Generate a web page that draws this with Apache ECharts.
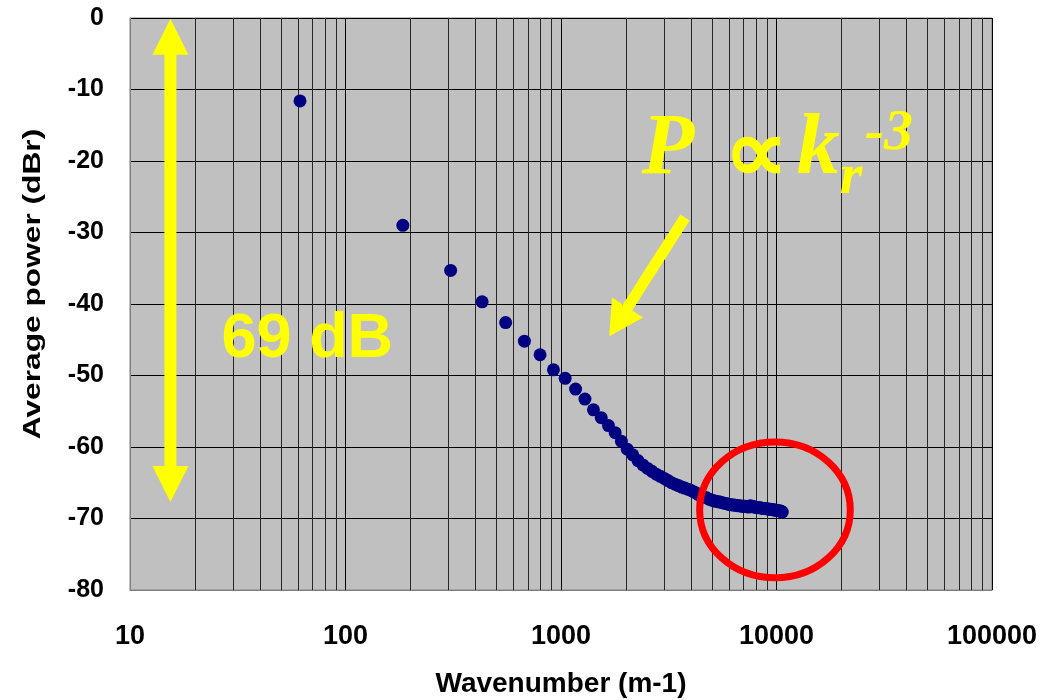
<!DOCTYPE html>
<html>
<head>
<meta charset="utf-8">
<script src="https://cdn.jsdelivr.net/npm/echarts@6/dist/echarts.min.js"></script>
<style>
  html, body { margin: 0; padding: 0; background: #ffffff; }
  #chart { width: 1053px; height: 700px; }
</style>
</head>
<body>
<div id="chart"></div>
<script>
// Radial wavenumber of each spectral bin (m-1)
const wavenumber = [
  61.5, 184.5, 307.5, 430.5, 553.5, 676.5, 799.5, 922.5, 1045.5,
  1168.5, 1291.5, 1414.5, 1537.5, 1660.5, 1783.5, 1906.5, 2029.5, 2152.5, 2275.5,
  2398.5, 2521.5, 2644.5, 2767.5, 2890.5, 3013.5, 3136.5, 3259.5, 3382.5, 3505.5,
  3628.5, 3751.5, 3874.5, 3997.5, 4120.5, 4243.5, 4366.5, 4489.5, 4612.5, 4735.5,
  4858.5, 4981.5, 5104.5, 5227.5, 5350.5, 5473.5, 5596.5, 5719.5, 5842.5, 5965.5,
  6088.5, 6211.5, 6334.5, 6457.5, 6580.5, 6703.5, 6826.5, 6949.5, 7072.5, 7195.5,
  7318.5, 7441.5, 7564.5, 7687.5, 7810.5, 7933.5, 8056.5, 8179.5, 8302.5, 8425.5,
  8548.5, 8671.5, 8794.5, 8917.5, 9040.5, 9163.5, 9286.5, 9409.5, 9532.5, 9655.5,
  9778.5, 9901.5, 10024.5, 10147.5, 10270.5, 10393.5, 10516.5, 10639.5
];

// Average power in each bin, relative to the reference level (dBr)
const averagePowerDb = [
  -11.6, -29.0, -35.3, -39.7, -42.6, -45.2, -47.1, -49.2, -50.4,
  -51.9, -53.3, -54.8, -55.9, -57.0, -58.0, -59.2, -60.3, -61.1, -61.9,
  -62.5, -63.0, -63.4, -63.8, -64.1, -64.4, -64.7, -65.0, -65.2, -65.4,
  -65.6, -65.75, -65.9, -66.05, -66.25, -66.45, -66.7, -66.85, -67.0, -67.1,
  -67.3, -67.4, -67.5, -67.6, -67.65, -67.7, -67.8, -67.85, -67.9, -68.0,
  -68.05, -68.1, -68.1, -68.15, -68.2, -68.2, -68.25, -68.3, -68.3, -68.3,
  -68.35, -68.4, -68.2, -68.3, -68.35, -68.4, -68.45, -68.5, -68.5, -68.5,
  -68.55, -68.6, -68.6, -68.6, -68.65, -68.7, -68.7, -68.7, -68.75, -68.8,
  -68.8, -68.8, -68.85, -68.9, -68.9, -68.95, -69.0, -69.1
];

const xTickValues = [10, 100, 1000, 10000, 100000];
const xTickLabels = ['10', '100', '1000', '10000', '100000'];
const yTickValues = [0, -10, -20, -30, -40, -50, -60, -70, -80];

const xAxisTitle = 'Wavenumber (m-1)';
const yAxisTitle = 'Average power (dBr)';
const spanLabel = '69 dB';

// Minor log gridlines at 2..9 times each decade
const minorGridValues = [];
for (let decade = 10; decade < 100000; decade *= 10) {
  for (let m = 2; m <= 9; m++) minorGridValues.push(m * decade);
}

const SANS = "'Liberation Sans', Arial, sans-serif";
const SERIF = "'Liberation Serif', 'Times New Roman', serif";
const YELLOW = '#ffff00';
const Y_MIN = yTickValues[yTickValues.length - 1];
const Y_MAX = yTickValues[0];

const chart = echarts.init(document.getElementById('chart'), null, { renderer: 'canvas' });

const option = {
  animation: false,
  backgroundColor: '#ffffff',
  grid: {
    left: 130, right: 61, top: 18, bottom: 110,
    outerBoundsMode: 'none', containLabel: false,
    show: true, backgroundColor: '#c0c0c0', borderColor: '#808080', borderWidth: 1
  },
  xAxis: {
    type: 'log', logBase: 10, min: xTickValues[0], max: xTickValues[xTickValues.length - 1],
    axisLine: { onZero: false, lineStyle: { color: '#808080', width: 1 } },
    axisTick: { show: false },
    axisLabel: {
      fontSize: 27, fontWeight: 'bold', fontFamily: SANS, color: '#000', margin: 33,
      formatter: v => {
        const i = xTickValues.findIndex(t => Math.abs(t - v) / t < 1e-6);
        return i >= 0 ? xTickLabels[i] : '';
      }
    },
    splitLine: { show: true, lineStyle: { color: '#000', width: 1 } },
    name: xAxisTitle, nameLocation: 'middle', nameGap: 80,
    nameTextStyle: { fontSize: 28, fontWeight: 'bold', fontFamily: SANS, color: '#000' }
  },
  yAxis: {
    type: 'value', min: Y_MIN, max: Y_MAX, interval: 10,
    axisLine: { show: true, onZero: false, lineStyle: { color: '#808080', width: 1 } },
    axisTick: { show: false },
    axisLabel: { fontSize: 25, fontWeight: 'bold', fontFamily: SANS, color: '#000', margin: 26 },
    splitLine: { show: true, lineStyle: { color: '#000', width: 1 } }
  },
  series: [
    {
      // minor vertical gridlines, snapped to whole pixels so they stay crisp
      type: 'custom', silent: true, z: 1,
      data: minorGridValues,
      renderItem: (params, api) => {
        const top = api.coord([api.value(0), Y_MAX]);
        const bottom = api.coord([api.value(0), Y_MIN]);
        const x = Math.round(top[0]) + 0.5;
        return {
          type: 'line',
          shape: { x1: x, y1: top[1], x2: x, y2: bottom[1] },
          style: { stroke: '#262626', lineWidth: 1 }
        };
      },
      encode: { x: 0 }
    },
    {
      name: 'Average power',
      type: 'scatter',
      z: 3,
      symbol: 'circle',
      symbolSize: 13,
      itemStyle: { color: '#000080', opacity: 1 },
      data: wavenumber.map((k, i) => [k, averagePowerDb[i]])
    }
  ]
};

chart.setOption(option);

// ---- annotations, anchored in data coordinates ----
const toPx = (x, y) => chart.convertToPixel({ gridIndex: 0 }, [x, y]);

function arrowPoints(a, b, shaft, headW, headL, doubleHead) {
  const dx = b[0] - a[0], dy = b[1] - a[1];
  const len = Math.hypot(dx, dy);
  const ux = dx / len, uy = dy / len, nx = -uy, ny = ux;
  const P = (t, s) => [a[0] + ux * t + nx * s, a[1] + uy * t + ny * s];
  const hs = shaft / 2, hh = headW / 2;
  const pts = [];
  if (doubleHead) pts.push(P(0, 0), P(headL, hh), P(headL, hs));
  else pts.push(P(0, hs));
  pts.push(P(len - headL, hs), P(len - headL, hh), P(len, 0), P(len - headL, -hh), P(len - headL, -hs));
  if (doubleHead) pts.push(P(headL, -hs), P(headL, -hh));
  else pts.push(P(0, -hs));
  return pts;
}

const spanTop = toPx(15.4, -0.1);
const spanBottom = toPx(15.4, -67.7);
const spanText = toPx(26.6, -45);
const slopeFrom = toPx(3760, -27.9);
const slopeTo = toPx(1675, -44.5);
const formula = toPx(2367, -21.9);          // left end of "P" on its baseline
const ringA = toPx(4400, -59.3);
const ringB = toPx(22000, -78.3);

const serifText = (text, x, y, size) => ({
  type: 'text', x, y, z: 10,
  style: {
    text, fill: YELLOW, fontFamily: SERIF, fontSize: size,
    fontWeight: 'bold', fontStyle: 'italic', align: 'left', verticalAlign: 'middle'
  }
});

chart.setOption({
  graphic: [
    {
      type: 'polygon', z: 10, silent: true,
      shape: { points: arrowPoints(spanTop, spanBottom, 12, 36, 36, true) },
      style: { fill: YELLOW }
    },
    {
      type: 'text', x: spanText[0], y: spanText[1], z: 10,
      style: {
        text: spanLabel, fill: YELLOW, fontFamily: SANS, fontSize: 63,
        fontWeight: 'bold', align: 'left', verticalAlign: 'middle'
      }
    },
    {
      type: 'polygon', z: 10, silent: true,
      shape: { points: arrowPoints(slopeFrom, slopeTo, 11, 37, 34, false) },
      style: { fill: YELLOW }
    },
    serifText('P', formula[0], formula[1] - 24, 86),
    {
      type: 'text', x: formula[0] + 82, y: formula[1] - 16, z: 10,
      style: { text: '\u221D', fill: YELLOW, fontFamily: SERIF, fontSize: 90, fontWeight: 'bold', align: 'left', verticalAlign: 'middle' }
    },
    serifText('k', formula[0] + 155, formula[1] - 24, 86),
    serifText('r', formula[0] + 198, formula[1] + 3, 58),
    serifText('-3', formula[0] + 223, formula[1] - 41, 58),
    {
      type: 'ellipse', z: 10, silent: true,
      shape: {
        cx: (ringA[0] + ringB[0]) / 2, cy: (ringA[1] + ringB[1]) / 2,
        rx: Math.abs(ringB[0] - ringA[0]) / 2, ry: Math.abs(ringB[1] - ringA[1]) / 2
      },
      style: { fill: null, stroke: '#ff0000', lineWidth: 7 }
    },
    {
      type: 'text', x: 33.5, y: 284, rotation: Math.PI / 2, scaleX: 1.32, z: 10,
      style: {
        text: yAxisTitle, fill: '#000', fontFamily: SANS, fontSize: 24,
        fontWeight: 'bold', align: 'center', verticalAlign: 'middle'
      }
    }
  ]
});
</script>
</body>
</html>
